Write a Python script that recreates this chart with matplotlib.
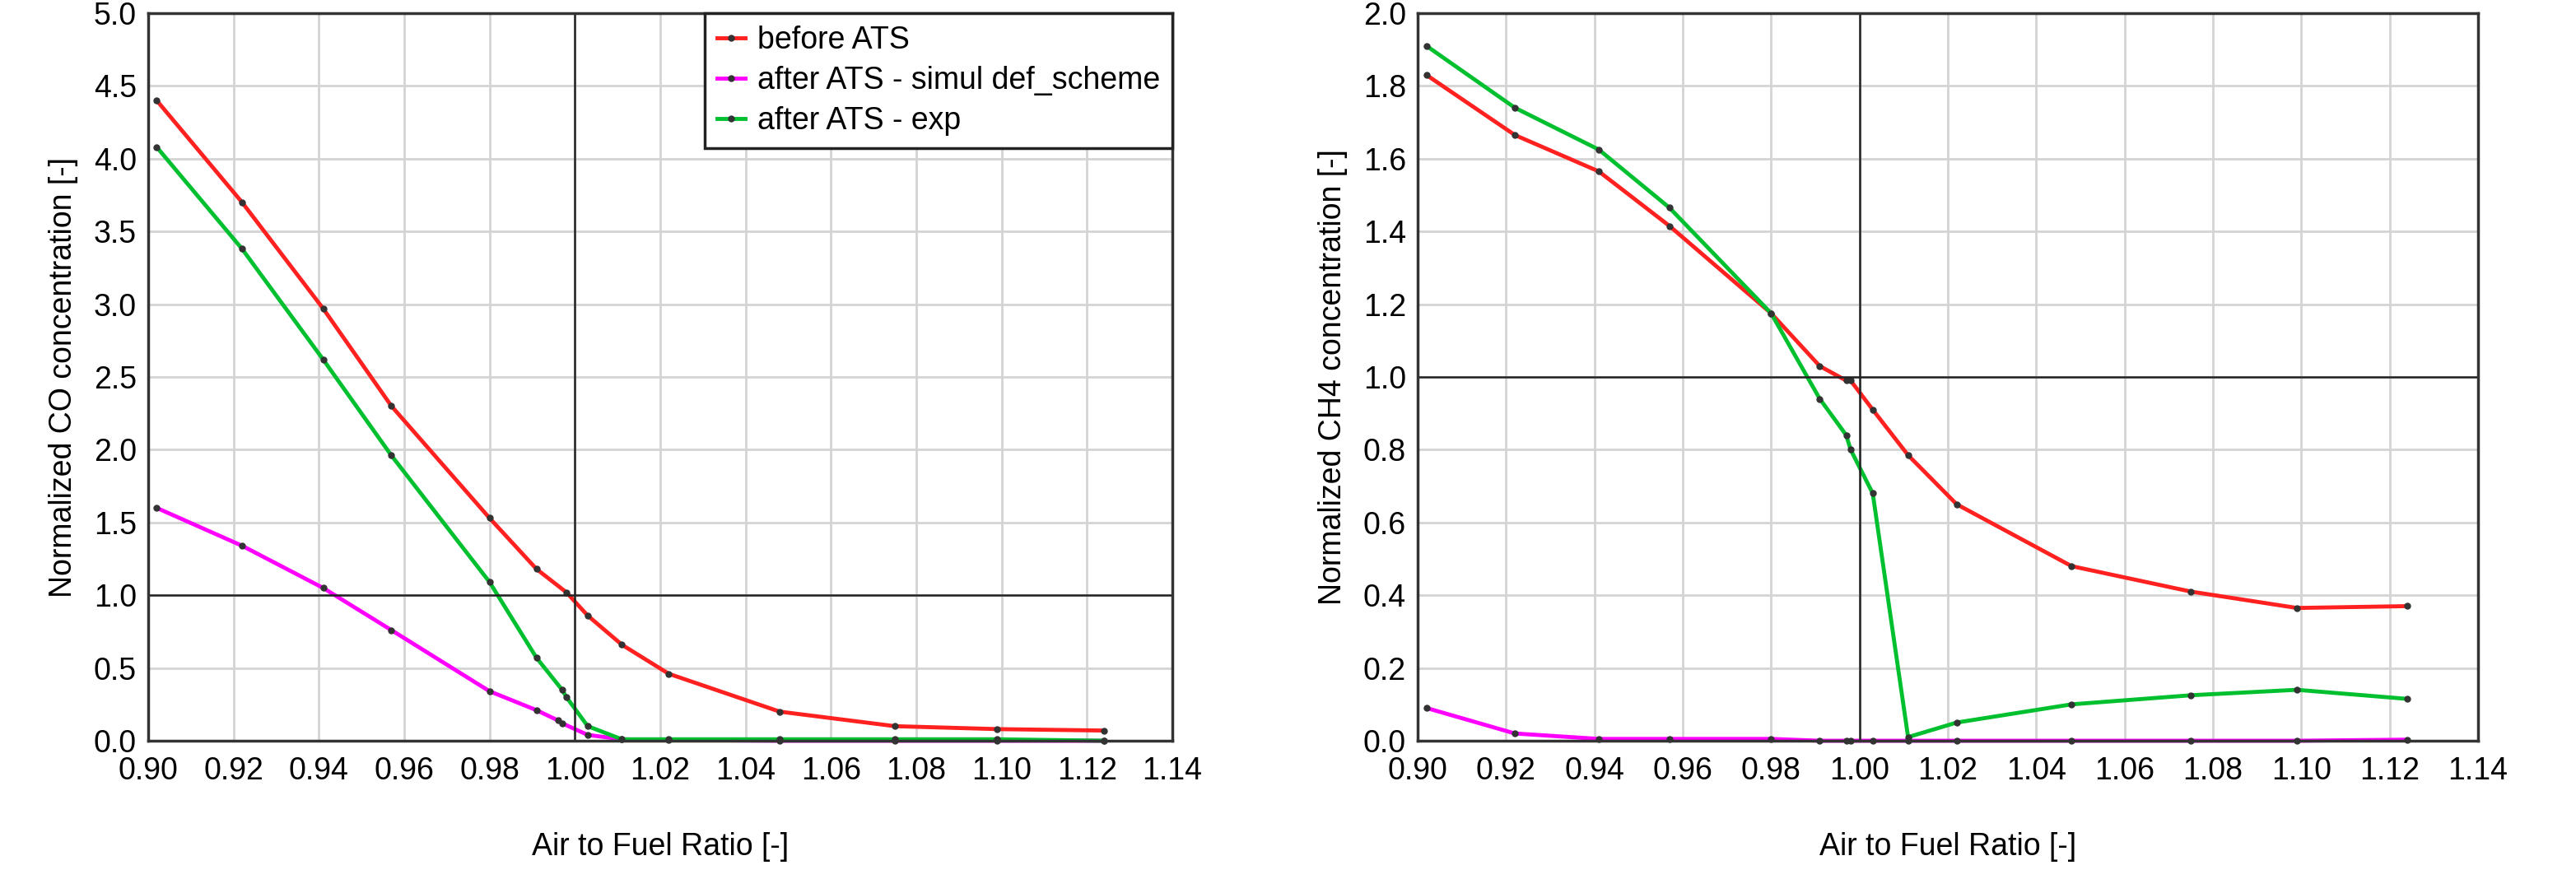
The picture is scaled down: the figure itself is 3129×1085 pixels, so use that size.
import matplotlib
matplotlib.use("Agg")
import matplotlib.pyplot as plt
import numpy as np

plt.rcParams['font.family'] = ['Liberation Sans', 'DejaVu Sans']

co_before_x = [0.902,0.922,0.941,0.957,0.980,0.991,0.998,1.003,1.011,1.022,1.048,1.075,1.099,1.124]
co_before_y = [4.4,3.7,2.97,2.3,1.53,1.18,1.02,0.86,0.66,0.46,0.2,0.1,0.08,0.07]
co_sim_x = [0.902,0.922,0.941,0.957,0.980,0.991,0.996,0.997,1.003,1.011,1.022,1.048,1.075,1.099,1.124]
co_sim_y = [1.6,1.34,1.05,0.76,0.34,0.21,0.14,0.12,0.04,0.01,0.005,0,0,0,0]
co_exp_x = [0.902,0.922,0.941,0.957,0.980,0.991,0.997,0.998,1.003,1.011,1.022,1.048,1.075,1.099,1.124]
co_exp_y = [4.08,3.38,2.62,1.96,1.09,0.57,0.35,0.3,0.1,0.01,0.01,0.01,0.01,0.01,0.0]

ch4_x = [0.902,0.922,0.941,0.957,0.980,0.991,0.997,0.998,1.003,1.011,1.022,1.048,1.075,1.099,1.124]
ch4_before_y = [1.83,1.665,1.565,1.415,1.175,1.03,0.99,0.99,0.91,0.785,0.65,0.48,0.41,0.365,0.37]
ch4_exp_y = [1.91,1.74,1.625,1.465,1.175,0.94,0.84,0.80,0.68,0.01,0.05,0.1,0.125,0.14,0.115]
ch4_sim_y = [0.09,0.02,0.005,0.005,0.005,0.0,0,0,0,0,0,0,0,0,0.003]

labels = ["before ATS", "after ATS - simul def_scheme", "after ATS - exp"]
colors = ["#ff2020", "#ff00ff", "#00c030"]

fig = plt.figure(figsize=(31.29, 10.85), dpi=100)
ax1 = fig.add_axes([180/3129, 1-900/1085, 1244/3129, 884/1085])
ax2 = fig.add_axes([1722/3129, 1-900/1085, 1288/3129, 884/1085])

FS = 27

def style(ax, ymax, ystep, ylabel):
    ax.set_xlim(0.90, 1.14)
    ax.set_ylim(0, ymax)
    ax.set_xticks(np.arange(0.90, 1.1401, 0.02))
    ax.set_xticklabels([f"{v:.2f}" for v in np.arange(0.90, 1.1401, 0.02)])
    ax.set_yticks(np.arange(0, ymax + 1e-9, ystep))
    ax.set_yticklabels([f"{v:.1f}" for v in np.arange(0, ymax + 1e-9, ystep)])
    ax.grid(True, color="#d4d4d4", lw=2)
    ax.set_axisbelow(True)
    ax.axvline(1.0, color="#222222", lw=1.8)
    ax.axhline(1.0, color="#222222", lw=1.8)
    ax.tick_params(labelsize=FS, length=0)
    ax.tick_params(axis='x', pad=14)
    ax.tick_params(axis='y', pad=10)
    ax.set_xlabel("Air to Fuel Ratio [-]", fontsize=FS, labelpad=40)
    ax.set_ylabel(ylabel, fontsize=FS, labelpad=14)
    for s in ax.spines.values():
        s.set_color("#333333"); s.set_linewidth(2.5)

def series(ax, x, y, c, lab):
    ax.plot(x, y, color=c, lw=3.5, label=lab, marker='o', ms=5,
            markerfacecolor='#333333', markeredgecolor='#333333', clip_on=False)

series(ax1, co_before_x, co_before_y, colors[0], labels[0])
series(ax1, co_sim_x, co_sim_y, colors[1], labels[1])
series(ax1, co_exp_x, co_exp_y, colors[2], labels[2])
style(ax1, 5.0, 0.5, "Normalized CO concentration [-]")
leg = ax1.legend(loc="upper right", fontsize=FS, fancybox=False, framealpha=1,
                 edgecolor="#222222", handlelength=0.9, handletextpad=0.4,
                 borderaxespad=0, borderpad=0.4, labelspacing=0.35)
leg.get_frame().set_linewidth(2.5)

series(ax2, ch4_x, ch4_before_y, colors[0], labels[0])
series(ax2, ch4_x, ch4_sim_y, colors[1], labels[1])
series(ax2, ch4_x, ch4_exp_y, colors[2], labels[2])
style(ax2, 2.0, 0.2, "Normalized CH4 concentration [-]")

fig.savefig("out.png", dpi=100)
